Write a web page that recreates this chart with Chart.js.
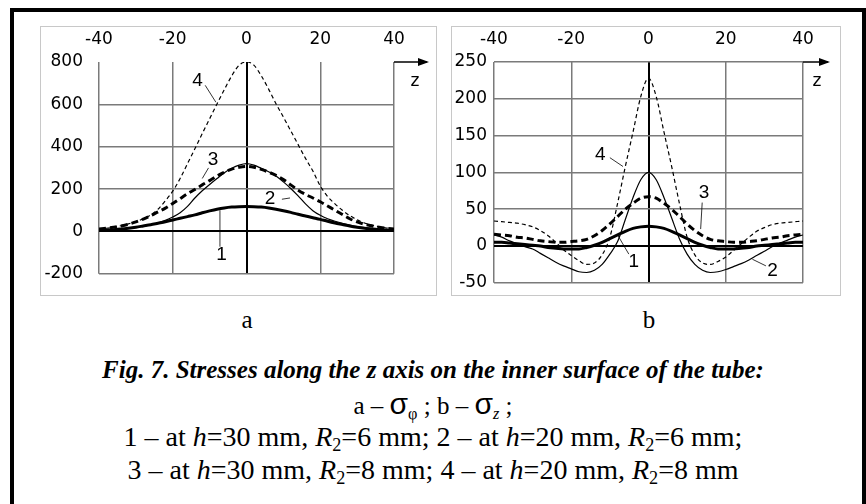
<!DOCTYPE html>
<html>
<head>
<meta charset="utf-8">
<script src="https://cdn.jsdelivr.net/npm/chart.js@4.4.0/dist/chart.umd.min.js"></script>
<style>
body { margin:0; background:#fff; width:866px; height:504px; position:relative; overflow:hidden; }
#outer { position:absolute; left:10px; top:8px; width:856px; height:520px; border:4px solid #000; box-sizing:border-box; }
.frame { position:absolute; border:1px solid #c8c8c8; box-sizing:border-box; }
canvas { position:absolute; }
.cap { position:absolute; left:0; width:866px; text-align:center; font-family:"Liberation Serif","Times New Roman",serif; color:#000; white-space:nowrap; }
.sig { font-family:"Liberation Sans",Arial,sans-serif; font-size:30px; }
sub { font-size:65%; vertical-align:-0.3em; line-height:0; }
</style>
</head>
<body>
<div id="outer"></div>
<div class="frame" style="left:40px;top:26px;width:397px;height:270px"></div>
<div class="frame" style="left:451px;top:26px;width:390px;height:270px"></div>
<canvas id="chartA" width="420" height="280" style="left:20px;top:20px"></canvas>
<canvas id="chartB" width="420" height="280" style="left:440px;top:20px"></canvas>

<div class="cap" style="top:305px;font-size:25px;line-height:30px;width:494px">a</div>
<div class="cap" style="top:305px;font-size:25px;line-height:30px;left:402px;width:494px">b</div>
<div class="cap" style="top:355px;font-size:25px;line-height:30px;font-weight:bold;font-style:italic">Fig. 7. Stresses along the z axis on the inner surface of the tube:</div>
<div class="cap" style="top:389px;font-size:25px;line-height:30px">a – <span class="sig">σ</span><sub>φ</sub> ; b – <span class="sig">σ</span><sub><i>z</i></sub> ;</div>
<div class="cap" style="top:422px;font-size:28px;line-height:30px">1 – at <i>h</i>=30 mm, <i>R</i><sub>2</sub>=6 mm; 2 – at <i>h</i>=20 mm, <i>R</i><sub>2</sub>=6 mm;</div>
<div class="cap" style="top:455px;font-size:28px;line-height:30px">3 – at <i>h</i>=30 mm, <i>R</i><sub>2</sub>=8 mm; 4 – at <i>h</i>=20 mm, <i>R</i><sub>2</sub>=8 mm</div>

<script>
// z coordinate, mm
var zValues = [-40,-38,-36,-34,-32,-30,-28,-26,-24,-22,-20,-18,-16,-14,-12,-10,-8,-6,-4,-2,0,
               2,4,6,8,10,12,14,16,18,20,22,24,26,28,30,32,34,36,38,40];
var xTicks = [-40,-20,0,20,40];

// a - sigma phi
var phi1 = [4,6,8,11,15,20,26,32,39,46,54,62,70,78,88,97,105,111,115,117,118,
            117,115,111,105,98,90,81,73,65,57,48,40,33,26,20,15,11,8,6,4];
var phi2 = [5,7,9,12,16,20,25,32,40,52,68,88,118,158,192,222,250,277,298,313,320,
            313,298,282,262,234,203,168,130,98,76,60,48,38,30,23,18,14,10,7,5];
var phi3 = [12,15,20,26,34,45,58,74,92,110,132,155,178,198,220,240,262,280,294,303,307,
            303,293,280,265,245,220,195,175,158,140,120,100,80,60,45,34,26,20,15,12];
var phi4 = [12,15,20,27,36,47,60,78,105,145,190,250,320,390,462,532,602,670,735,785,800,
            785,735,672,603,540,475,410,345,285,215,165,130,100,75,55,40,30,22,16,12];
var phiTicks = [-200,0,200,400,600,800];

// b - sigma z
var sz1 = [5,5,4,3,2,1,0,-2,-3,-4,-4,-4,-2,1,5,10,15,20,24,26,27,
           26,24,20,15,10,5,1,-2,-4,-4,-4,-3,-2,0,1,2,3,4,5,5];
var sz2 = [15,12,7,3,-1,-4,-10,-16,-22,-27,-31,-35,-36,-33,-25,-11,6,36,66,90,100,
           90,66,38,10,-11,-25,-33,-36,-35,-32,-28,-24,-19,-13,-7,-1,4,8,12,15];
var sz3 = [16,15,14,12,11,9,7,6,5,5,6,7,9,14,21,30,40,50,58,65,67,
           65,58,50,40,30,21,14,9,7,6,5,5,6,7,9,11,12,14,15,16];
var sz4 = [34,33,32,31,29,26,21,14,5,-5,-13,-20,-25,-23,-12,12,58,108,155,203,228,
           203,155,108,58,12,-12,-23,-25,-21,-15,-6,3,12,20,25,29,31,32,33,34];
var szTicks = [-50,0,50,100,150,200,250];

var tickFont = {family:'DejaVu Sans', size:17};

var annot = {
  id:'annot',
  afterDatasetsDraw: function(chart, args, o) {
    var ctx = chart.ctx, a = chart.chartArea, x = chart.scales.x, y = chart.scales.y;
    ctx.save();
    ctx.strokeStyle = '#000'; ctx.fillStyle = '#000';
    ctx.lineWidth = 1.5;
    ctx.beginPath();
    ctx.moveTo(a.right, a.top); ctx.lineTo(a.right + o.arrow, a.top);
    ctx.stroke();
    ctx.beginPath();
    ctx.moveTo(a.right + o.arrow + 2, a.top);
    ctx.lineTo(a.right + o.arrow - 9, a.top - 4);
    ctx.lineTo(a.right + o.arrow - 9, a.top + 4);
    ctx.closePath(); ctx.fill();
    ctx.font = '17px "DejaVu Sans"';
    ctx.textAlign = 'center'; ctx.textBaseline = 'middle';
    ctx.fillText('z', a.right + o.zdx, a.top + 20);
    ctx.font = '19px "Liberation Sans"';
    ctx.lineWidth = 0.8;
    o.labels.forEach(function(l) {
      ctx.fillText(l.t, x.getPixelForValue(l.at[0]), y.getPixelForValue(l.at[1]));
      ctx.beginPath();
      ctx.moveTo(x.getPixelForValue(l.from[0]), y.getPixelForValue(l.from[1]));
      ctx.lineTo(x.getPixelForValue(l.to[0]), y.getPixelForValue(l.to[1]));
      ctx.stroke();
    });
    ctx.restore();
  }
};

function makeChart(id, series, yTicks, yw, padR, labels, arrow, zdx, hideTop, tickPad) {
  var styles = [
    {w:3, dash:[]},
    {w:1.2, dash:[]},
    {w:3, dash:[7,4]},
    {w:1.2, dash:[4,3]}
  ];
  var ds = series.map(function(s, i) {
    return {
      data: zValues.map(function(z, k) { return {x:z, y:s[k]}; }),
      borderColor:'#000', borderWidth:styles[i].w, borderDash:styles[i].dash,
      pointRadius:0, cubicInterpolationMode:'monotone', fill:false
    };
  });
  return new Chart(document.getElementById(id), {
    type:'line',
    data:{datasets:ds},
    options:{
      responsive:false, animation:false, devicePixelRatio:1,
      layout:{padding:{left:0, right:padR, top:0, bottom:16}},
      plugins:{legend:{display:false}, tooltip:{enabled:false},
        annot:{labels:labels, arrow:arrow, zdx:zdx}},
      scales:{
        x:{type:'linear', position:'top', min:xTicks[0], max:xTicks[xTicks.length-1],
          afterBuildTicks:function(s){ s.ticks = xTicks.map(function(v){return {value:v};}); },
          afterFit:function(s){ s.height = 42; },
          border:{display:false},
          grid:{drawTicks:false, color:function(c){ return c.tick.value===0 ? '#000' : '#7a7a7a'; },
                lineWidth:function(c){ return c.tick.value===0 ? 2 : 1.5; }},
          ticks:{font:tickFont, color:'#000', padding:12, maxRotation:0}},
        y:{type:'linear', min:yTicks[0], max:yTicks[yTicks.length-1],
          afterBuildTicks:function(s){ s.ticks = yTicks.map(function(v){return {value:v};}); },
          afterFit:function(s){ s.width = yw; },
          border:{display:false},
          grid:{drawTicks:false,
                color:function(c){ if (c.tick.value===0) return '#000';
                  if (hideTop && c.tick.value===yTicks[yTicks.length-1]) return 'rgba(0,0,0,0)';
                  return '#7a7a7a'; },
                lineWidth:function(c){ return c.tick.value===0 ? 2 : 1.5; }},
          ticks:{font:tickFont, color:'#000', padding:tickPad}}
      }
    },
    plugins:[annot]
  });
}

makeChart('chartA', [phi1, phi2, phi3, phi4], phiTicks, 79, 46, [
  {t:'4', at:[-13.3,710], from:[-11.2,690], to:[-8.3,610]},
  {t:'3', at:[-9.1,338], from:[-10.3,300], to:[-12,250]},
  {t:'2', at:[6.4,156], from:[9.6,152], to:[11.8,158]},
  {t:'1', at:[-6.8,-108], from:[-7.2,-72], to:[-7.2,100]}
], 33, 21, true, 16);

makeChart('chartB', [sz1, sz2, sz3, sz4], szTicks, 54, 57, [
  {t:'4', at:[-12.5,124], from:[-10,120], to:[-6.6,108]},
  {t:'3', at:[14.4,72], from:[13.9,59], to:[13.5,23]},
  {t:'1', at:[-3.8,-22], from:[-5.1,-11], to:[-8,15]},
  {t:'2', at:[32.1,-34], from:[30.4,-27], to:[26.9,-18]}
], 25, 14, false, 7);
</script>
</body>
</html>
